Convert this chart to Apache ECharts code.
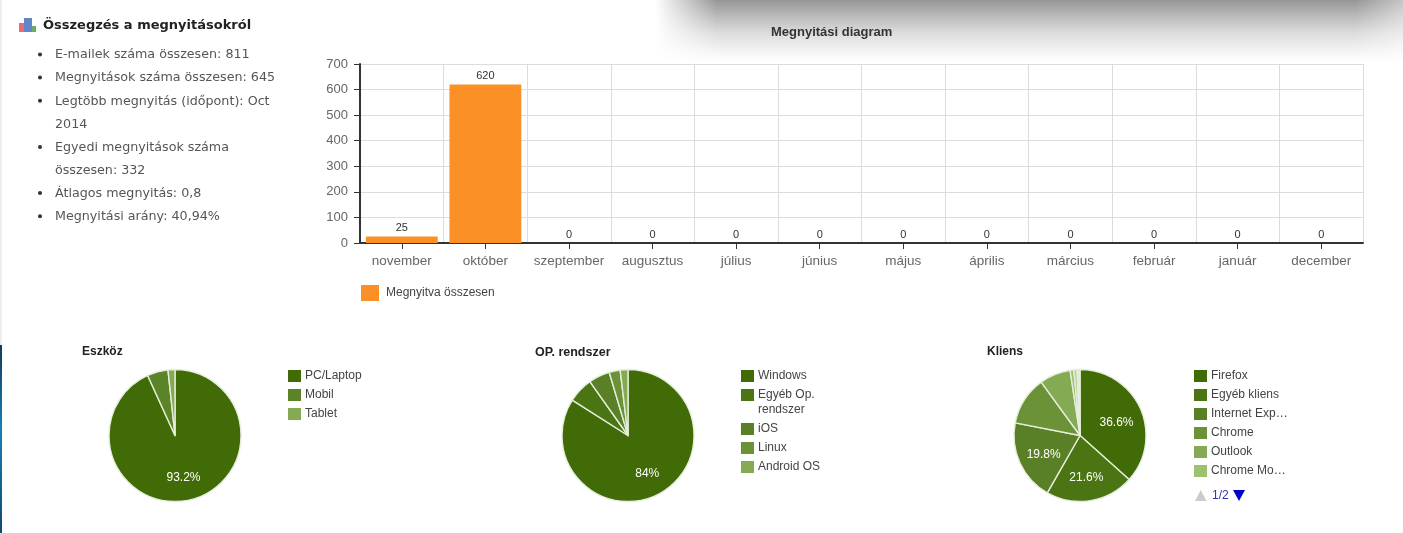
<!DOCTYPE html>
<html><head><meta charset="utf-8">
<style>html,body{margin:0;padding:0;background:#fff}#c{width:1403px;height:533px;filter:blur(.45px)}</style>
<script src="https://cdn.jsdelivr.net/npm/echarts@6/dist/echarts.min.js"></script>
</head><body><div id="c"></div>
<script>
const summaryTitle = 'Összegzés a megnyitásokról';
const summaryItems = [
  ['E-mailek száma összesen: 811'],
  ['Megnyitások száma összesen: 645'],
  ['Legtöbb megnyitás (időpont): Oct', '2014'],
  ['Egyedi megnyitások száma', 'összesen: 332'],
  ['Átlagos megnyitás: 0,8'],
  ['Megnyitási arány: 40,94%']
];
const months = ['november','október','szeptember','augusztus','július','június','május','április','március','február','január','december'];
const opens = [25,620,0,0,0,0,0,0,0,0,0,0];
const barSeriesName = 'Megnyitva összesen';

const deviceNames = ['PC/Laptop','Mobil','Tablet'];
const deviceValues = [93.2,5.1,1.7];
const deviceColors = ['#416b07','#5a8427','#84aa53'];

const osNames = ['Windows','Egyéb Op. rendszer','iOS','Linux','Android OS'];
const osValues = [84,6.2,5.2,2.7,1.9];
const osColors = ['#416b07','#4a7512','#5a8027','#6c9238','#84aa53'];

const clientNames = ['Firefox','Egyéb kliens','Internet Explorer','Chrome','Outlook','Chrome Mobile','Safari','Opera','Thunderbird'];
const clientLegendText = ['Firefox','Egyéb kliens','Internet Exp…','Chrome','Outlook','Chrome Mo…'];
const clientValues = [36.6,21.6,19.8,11.9,7.6,0.9,0.8,0.5,0.2];
const clientColors = ['#416b07','#4a7512','#5a8027','#6c9238','#84aa53','#9dc26d','#b5d092','#ccdfb3','#e0ecd0'];

const FONT = '"Liberation Sans", Arial, sans-serif';
const BODY = '"DejaVu Sans", Verdana, sans-serif';
const R = 66;

function pie(name, names, values, colors, cx, cy) {
  const total = values.reduce((a,b)=>a+b,0);
  const mids = []; let acc = 0;
  values.forEach(v => { mids.push((acc + v/2)/total*2*Math.PI); acc += v; });
  return {
    type:'pie', name, radius:[0,R], center:[cx,cy], startAngle:90, clockwise:true,
    avoidLabelOverlap:false, silent:true, animation:false,
    itemStyle:{borderColor:'#e6eedb',borderWidth:1.4},
    labelLine:{show:false},
    labelLayout: p => ({dx: .06*R*Math.sin(mids[p.dataIndex]), dy: 3 - .06*R*Math.cos(mids[p.dataIndex])}),
    data: names.map((n,i)=>({
      name:n, value:values[i], itemStyle:{color:colors[i]},
      label:{show: values[i] >= 15, position:'inside', formatter:'{c}%', color:'#fff', fontFamily:FONT, fontSize:12}
    }))
  };
}
function legend(data, left, top, extra) {
  return Object.assign({
    data, left, top, orient:'vertical', itemWidth:13, itemHeight:12, itemGap:7, selectedMode:false,
    padding:0, icon:'rect', itemStyle:{borderWidth:0},
    textStyle:{fontFamily:FONT,fontSize:12,color:'#444',padding:[0,0,0,-1],lineHeight:12}
  }, extra||{});
}
const LG = echarts.graphic.LinearGradient;
const graphic = [
  {type:'rect',z:0,shape:{x:0,y:0,width:2,height:345},style:{fill:'#eeeeee'}},
  {type:'rect',z:0,shape:{x:0,y:345,width:2,height:188},style:{fill:new LG(0,0,0,1,[{offset:0,color:'#123a5c'},{offset:.45,color:'#1b7fb5'},{offset:1,color:'#0f4a6e'}])}},
  {type:'rect',z:0,shape:{x:655,y:0,width:748,height:62},style:{fill:new LG(0,0,0,1,[{offset:0,color:'#969696'},{offset:.27,color:'#bbbbbb'},{offset:.53,color:'#dcdcdc'},{offset:.81,color:'#f3f3f3'},{offset:1,color:'#ffffff'}])}},
  {type:'rect',z:0,shape:{x:655,y:0,width:62,height:62},style:{fill:new LG(0,0,1,0,[{offset:0,color:'rgba(255,255,255,1)'},{offset:1,color:'rgba(255,255,255,0)'}])}},
  {type:'rect',z:0,shape:{x:1355,y:0,width:48,height:62},style:{fill:new LG(0,0,1,0,[{offset:0,color:'rgba(255,255,255,0)'},{offset:1,color:'rgba(255,255,255,.45)'}])}},
  {type:'rect',z:1,shape:{x:19,y:23,width:5,height:9},style:{fill:'#ee6a70'}},
  {type:'rect',z:1,shape:{x:24,y:18,width:8,height:14},style:{fill:'#5f86c9'}},
  {type:'rect',z:1,shape:{x:32,y:26,width:4,height:6},style:{fill:'#6cab62'}},
  {type:'text',z:1,x:43,y:26,style:{text:summaryTitle,font:'bold 13px '+BODY,fill:'#222',textVerticalAlign:'middle'}},
  {type:'polygon',z:1,shape:{points:[[1195,501],[1206.5,501],[1200.7,490]]},style:{fill:'#cccccc'}},
  {type:'polygon',z:1,shape:{points:[[1233,490],[1245,490],[1239,501]]},style:{fill:'#0000cc'}},
  {type:'text',z:1,x:1212,y:496,style:{text:'1/2',font:'12px '+FONT,fill:'#3333aa',textVerticalAlign:'middle'}},
  {type:'text',z:1,x:758,y:410,style:{text:'rendszer',font:'12px '+FONT,fill:'#444',textVerticalAlign:'middle'}}
];
let line = 0;
summaryItems.forEach(item => {
  graphic.push({type:'circle',z:1,shape:{cx:40,cy:54.5+line*23.1,r:2},style:{fill:'#333'}});
  item.forEach(t => {
    graphic.push({type:'text',z:1,x:55,y:55+line*23.1,style:{text:t,font:'12.7px '+BODY,fill:'#555',textVerticalAlign:'middle'}});
    line++;
  });
});

const chart = echarts.init(document.getElementById('c'),null,{renderer:'canvas'});
chart.setOption({
  animation:false,
  backgroundColor:'#fff',
  graphic,
  title:[
    {text:'Megnyitási diagram',left:771,top:26,padding:0,textStyle:{fontFamily:FONT,fontSize:13,fontWeight:'bold',color:'#333'}},
    {text:'Eszköz',left:82,top:346,padding:0,textStyle:{fontFamily:FONT,fontSize:12,fontWeight:'bold',color:'#222'}},
    {text:'OP. rendszer',left:535,top:346,padding:0,textStyle:{fontFamily:FONT,fontSize:12.5,fontWeight:'bold',color:'#222'}},
    {text:'Kliens',left:987,top:346,padding:0,textStyle:{fontFamily:FONT,fontSize:12,fontWeight:'bold',color:'#222'}}
  ],
  grid:{left:360,top:64,width:1003,height:179,containLabel:false},
  xAxis:{type:'category',data:months,
    axisLine:{lineStyle:{color:'#333',width:2}},
    axisTick:{show:true,alignWithLabel:true,length:6,lineStyle:{color:'#333'}},
    splitLine:{show:true,lineStyle:{color:'#dcdcdc'}},
    axisLabel:{interval:0,fontFamily:FONT,fontSize:13.5,color:'#666',margin:11}},
  yAxis:{type:'value',min:0,max:700,interval:100,
    axisLine:{show:true,lineStyle:{color:'#333',width:2}},
    axisTick:{show:true,length:6,lineStyle:{color:'#333'}},
    splitLine:{lineStyle:{color:'#dcdcdc'}},
    axisLabel:{fontFamily:FONT,fontSize:13,color:'#666',margin:12}},
  legend:[
    {data:[barSeriesName],left:361,top:285,padding:0,itemWidth:18,itemHeight:16,itemGap:0,icon:'rect',selectedMode:false,
      textStyle:{fontFamily:FONT,fontSize:12,color:'#444',padding:[0,0,0,2]}},
    legend(deviceNames,288,370),
    legend(osNames.slice(0,2),741,370,{formatter:n=>n.replace(' rendszer','')}),
    legend(osNames.slice(2),741,423),
    legend(clientNames.slice(0,clientLegendText.length),1194,370,{formatter:n=>clientLegendText[clientNames.indexOf(n)]})
  ],
  series:[
    {type:'bar',name:barSeriesName,data:opens,barWidth:'86%',itemStyle:{color:'#fb9126'},
      label:{show:true,position:'top',distance:3,fontFamily:FONT,fontSize:11,color:'#333'}},
    pie('Eszköz',deviceNames,deviceValues,deviceColors,175,435.5),
    pie('OP. rendszer',osNames,osValues,osColors,628,435.5),
    pie('Kliens',clientNames,clientValues,clientColors,1080,435.5)
  ]
});
</script></body></html>
